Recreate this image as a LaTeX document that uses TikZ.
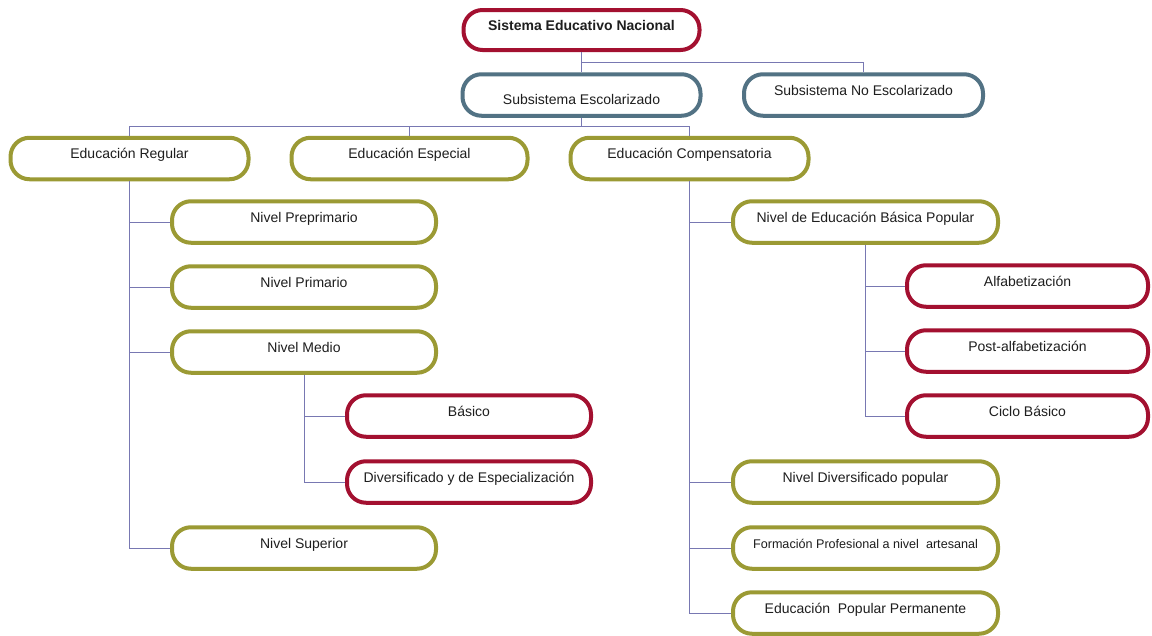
\documentclass[tikz,border=0pt]{standalone}
\usepackage{fontspec}
\setmainfont{Liberation Sans}
\usetikzlibrary{calc}
\definecolor{cred}{RGB}{163,16,48}
\definecolor{cblue}{RGB}{82,114,132}
\definecolor{colive}{RGB}{155,154,52}
\definecolor{cline}{RGB}{120,120,178}
\definecolor{ctext}{RGB}{30,30,30}
\begin{document}
\begin{tikzpicture}[x=1pt,y=-1pt,
  box/.style={draw, line width=4pt, rounded corners=19pt, fill=white,
    minimum height=41.5pt, inner sep=0pt, text=ctext,
    font=\fontsize{14}{16}\selectfont, text height=8pt, text depth=8pt},
  redbox/.style={box, draw=cred},
  bluebox/.style={box, draw=cblue},
  olbox/.style={box, draw=colive},
  conn/.style={draw=cline, line width=0.9pt}]
\useasboundingbox (0,0) rectangle (1152,635);
\fill[white] (0,0) rectangle (1152,635);

% boxes
\node[redbox, minimum width=236pt, minimum height=40pt, font=\fontsize{14}{16}\selectfont\bfseries] (sen) at (581.5,30) {Sistema Educativo Nacional};
\node[bluebox, minimum width=238pt, text height=19pt, text depth=0pt] (sesc) at (581.5,95) {Subsistema Escolarizado};
\node[bluebox, minimum width=239pt] (snoesc) at (863.5,95) {Subsistema No Escolarizado};

\node[olbox, minimum width=238pt] (ereg) at (129.5,158.5) {Educación Regular};
\node[olbox, minimum width=236pt] (eesp) at (409.5,158.5) {Educación Especial};
\node[olbox, minimum width=238pt] (ecomp) at (689.5,158.5) {Educación Compensatoria};

\node[olbox, minimum width=264pt] (pre) at (304,222) {Nivel Preprimario};
\node[olbox, minimum width=264pt] (pri) at (304,287) {Nivel Primario};
\node[olbox, minimum width=264pt] (med) at (304,352) {Nivel Medio};
\node[olbox, minimum width=264pt] (sup) at (304,548) {Nivel Superior};

\node[redbox, minimum width=244pt] (bas) at (469,416) {Básico};
\node[redbox, minimum width=244pt] (div) at (469,482) {Diversificado y de Especialización};

\node[olbox, minimum width=265pt] (nebp) at (865.5,222) {Nivel de Educación Básica Popular};
\node[olbox, minimum width=265pt] (ndp) at (865.5,482) {Nivel Diversificado popular};
\node[olbox, minimum width=265pt, font=\fontsize{12.6}{14}\selectfont] (fp) at (865.5,548) {Formación Profesional a nivel\ \ artesanal};
\node[olbox, minimum width=265pt] (epp) at (865.5,613) {Educación\ \ Popular Permanente};

\node[redbox, minimum width=241pt] (alf) at (1027.5,286) {Alfabetización};
\node[redbox, minimum width=241pt] (post) at (1027.5,351) {Post-alfabetización};
\node[redbox, minimum width=241pt] (ciclo) at (1027.5,416) {Ciclo Básico};

% junctions
\coordinate (j0) at ($(sen.south)!0.5!(sesc.north)$);
\coordinate (j1) at (581.5,126);

% connectors
\draw[conn] (sen.south) -- (sesc.north);
\draw[conn] (j0) -| (snoesc.north);
\draw[conn] (sesc.south) -- (j1);
\draw[conn] (j1) -| (ereg.north);
\draw[conn] (j1) -| (eesp.north);
\draw[conn] (j1) -| (ecomp.north);

\draw[conn] (ereg.south) |- (pre.west);
\draw[conn] (ereg.south) |- (pri.west);
\draw[conn] (ereg.south) |- (med.west);
\draw[conn] (ereg.south) |- (sup.west);

\draw[conn] (med.south) |- (bas.west);
\draw[conn] (med.south) |- (div.west);

\draw[conn] (ecomp.south) |- (nebp.west);
\draw[conn] (ecomp.south) |- (ndp.west);
\draw[conn] (ecomp.south) |- (fp.west);
\draw[conn] (ecomp.south) |- (epp.west);

\draw[conn] (nebp.south) |- (alf.west);
\draw[conn] (nebp.south) |- (post.west);
\draw[conn] (nebp.south) |- (ciclo.west);
\end{tikzpicture}
\end{document}
